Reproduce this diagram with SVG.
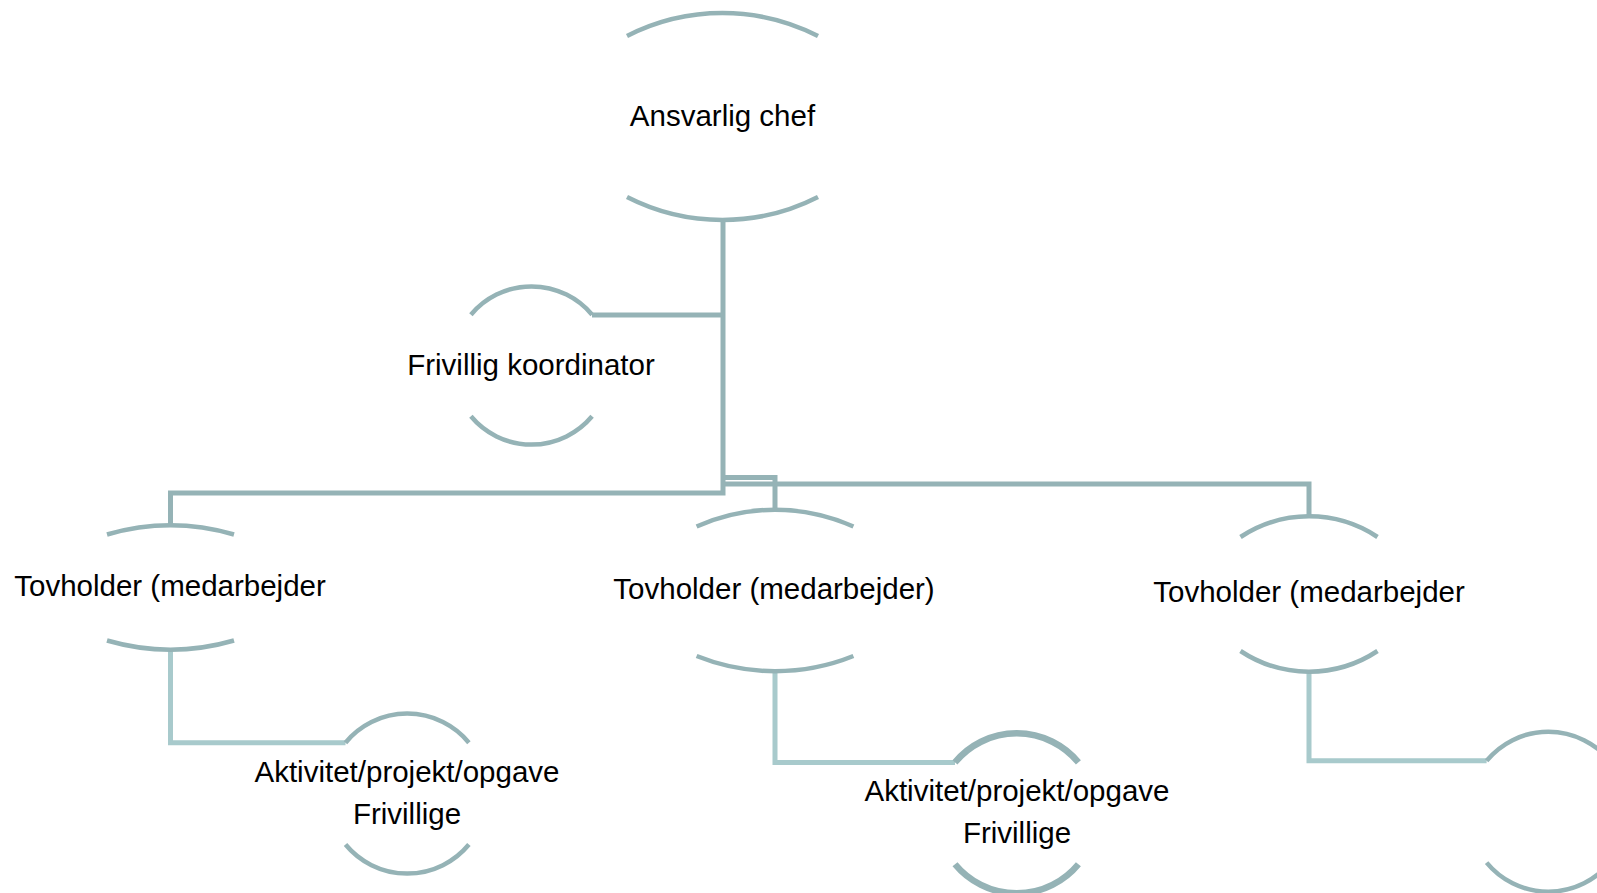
<svg xmlns="http://www.w3.org/2000/svg" width="1597" height="893" viewBox="0 0 1597 893">
<style>
.arc{fill:none;stroke:#95B3B6;stroke-width:4.5}
.arcb{fill:none;stroke:#95B3B6;stroke-width:6.5}
.con{fill:none;stroke:#95B3B6;stroke-width:5;stroke-linejoin:miter}
.con2{fill:none;stroke:#A8CACC;stroke-width:5;stroke-linejoin:miter}
.t{font-family:"Liberation Sans",Arial,sans-serif;font-size:29.5px;fill:#000;text-anchor:middle}
</style>
<rect width="1597" height="893" fill="#fff"/>
<g id="connectors">
<path class="con" d="M723 219 V493 H170.5 V525.5"/>
<path class="con" d="M592 315 H723"/>
<path class="con" d="M723 477.5 H775 V510"/>
<path class="con" d="M723 484 H1309 V516.5"/>
<path class="con2" d="M170.5 649 V742.7 H345.5"/>
<path class="con2" d="M775 671 V762.4 H955"/>
<path class="con2" d="M1309 671.5 V760.8 H1486.6"/>
</g>
<g id="node-ansvarlig">
<path class="arc" d="M627 36 A210 210 0 0 1 818 36"/>
<path class="arc" d="M627 197 A210 210 0 0 0 818 197"/>
<text class="t" x="722.5" y="126">Ansvarlig chef</text>
</g>
<g id="node-frivillig">
<path class="arc" d="M470.9 314.7 A79 79 0 0 1 592.1 314.7"/>
<path class="arc" d="M470.9 416.3 A79 79 0 0 0 592.1 416.3"/>
<text class="t" x="531" y="375">Frivillig koordinator</text>
</g>
<g id="node-tov1">
<path class="arc" d="M107 534.5 A228 228 0 0 1 234 534.5"/>
<path class="arc" d="M107 640.5 A228 228 0 0 0 234 640.5"/>
<text class="t" x="170" y="596">Tovholder (medarbejder</text>
</g>
<g id="node-tov2">
<path class="arc" d="M696.6 526.5 A192 192 0 0 1 853.4 526.5"/>
<path class="arc" d="M696.6 656 A210 210 0 0 0 853.4 656"/>
<text class="t" x="774" y="599">Tovholder (medarbejder)</text>
</g>
<g id="node-tov3">
<path class="arc" d="M1240.5 537 A124 124 0 0 1 1377.5 537"/>
<path class="arc" d="M1240.5 651 A124 124 0 0 0 1377.5 651"/>
<text class="t" x="1309" y="602">Tovholder (medarbejder</text>
</g>
<g id="node-akt1">
<path class="arc" d="M345.5 742.7 A80 80 0 0 1 468.9 742.7"/>
<path class="arc" d="M345.5 844.5 A80 80 0 0 0 468.9 844.5"/>
<text class="t" x="407" y="782">Aktivitet/projekt/opgave</text>
<text class="t" x="407" y="824">Frivillige</text>
</g>
<g id="node-akt2">
<path class="arcb" d="M955 762.4 A80 80 0 0 1 1078.4 762.4"/>
<path class="arcb" d="M955 864.2 A80 80 0 0 0 1078.4 864.2"/>
<text class="t" x="1017" y="800.5">Aktivitet/projekt/opgave</text>
<text class="t" x="1017" y="842.5">Frivillige</text>
</g>
<g id="node-akt3">
<path class="arc" d="M1486.6 760.8 A80 80 0 0 1 1610 760.8"/>
<path class="arc" d="M1486.6 862.6 A80 80 0 0 0 1610 862.6"/>
</g>
</svg>
